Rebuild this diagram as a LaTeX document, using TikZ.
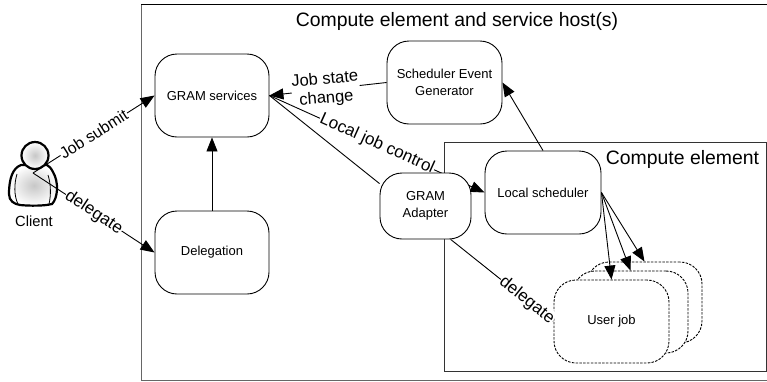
\documentclass[tikz,border=0pt]{standalone}
\usepackage{fontspec}
\setmainfont{Liberation Sans}
\usetikzlibrary{arrows.meta,calc}
\pgfdeclarelayer{front}
\pgfsetlayers{main,front}
\tikzset{
  x=1pt,y=-1pt,
  box/.style={draw=black,fill=white,rounded corners=22pt,line width=0.9pt,inner sep=0pt,font=\fontsize{13}{17}\selectfont,align=center},
  jobbox/.style={box,dash pattern=on 2.5pt off 1.3pt},
  frame/.style={draw=black!60,line width=1.2pt,inner sep=0pt},
  conn/.style={draw=black,line width=0.9pt},
  arr/.style={conn,-{Triangle[length=14pt,width=11pt]}},
  lab/.style={fill=white,inner sep=0.6pt,font=\fontsize{17}{19}\selectfont,align=center},
  title/.style={font=\fontsize{19.4}{22}\selectfont,inner sep=0pt},
  skin/.style={inner color=black!22,outer color=white},
}
\begin{document}
\begin{tikzpicture}
\useasboundingbox (0,0) rectangle (767,381);
\node[frame,minimum width=640pt,minimum height=376pt,anchor=north west] (outer) at (141,4) {};
\draw[black,line width=1pt] (outer.north west) -- (outer.north east);
\node[title] (outertitle) at (457,21.5) {Compute element and service host(s)};
\node[frame,draw=black!80,fill=white,minimum width=322pt,minimum height=229pt,anchor=north west] (inner) at (444,142) {};
\node[title] (innertitle) at (682.5,159.5) {Compute element};
% person
\coordinate (client) at (33,173);
\draw[line width=2.2pt,skin] (21,165) .. controls (13,168) and (9,178) .. (9,194) .. controls (9,201) and (14,204) .. (20,205) .. controls (30,206) and (44,206) .. (52,204) .. controls (58,198) and (59,182) .. (53,172) .. controls (51,168) and (49,166) .. (47,165) -- cycle;
\draw[line width=.8pt] (17,174) .. controls (14,184) and (14,196) .. (18,204);
\draw[line width=.8pt] (48,175) .. controls (51,184) and (51,196) .. (49,204);
\draw[line width=2.2pt,skin] (35,155.5) circle (13.5);
\node[font=\fontsize{14.7}{17}\selectfont,inner sep=0pt] (clientlabel) at (34,221) {Client};
% nodes
\node[box,minimum width=114pt,minimum height=83pt] (gram) at (212,95.5) {GRAM services};
\node[box,minimum width=114pt,minimum height=83pt] (deleg) at (212,252.5) {Delegation};
\node[box,minimum width=115pt,minimum height=83pt] (seg) at (444.5,82.5) {Scheduler Event\\Generator};
\node[box,minimum width=116pt,minimum height=83pt] (sched) at (543,192.5) {Local scheduler};
\node[jobbox,minimum width=115pt,minimum height=81pt] (jobc) at (644.5,302.5) {};
\node[jobbox,minimum width=115pt,minimum height=82pt] (jobb) at (630.5,312) {};
\node[jobbox,minimum width=115pt,minimum height=83pt] (joba) at (611.5,321.5) {User job};
\begin{pgfonlayer}{front}
\node[box,minimum width=91pt,minimum height=66pt] (adapter) at (425.5,206) {GRAM\\Adapter};
\end{pgfonlayer}
% connectors
\draw[arr] (client) -- node[lab,sloped,pos=.5,font=\fontsize{16}{19}\selectfont] {Job submit} (gram.west);
\draw[arr] (client) -- node[lab,sloped,pos=.5] {delegate} (deleg.west);
\draw[arr] (deleg) -- (gram);
\draw[arr] (seg.west) -- node[lab,pos=.52,rotate=5,font=\fontsize{16.5}{19}\selectfont] {Job state\\change} (gram.east);
\draw[arr] (gram.east) -- node[lab,sloped,pos=.5] {Local job control} (sched.west);
\draw[conn] (gram.east) -- (adapter.154);
\draw[arr] (sched.north) -- (seg.east);
\draw[arr] (sched.east) -- (joba.north);
\draw[arr] (sched.east) -- (jobb.north);
\draw[arr] (sched.east) -- (jobc.north);
\draw[arr] (adapter.-53) -- node[lab,sloped,pos=.74] {delegate} (joba.west);
\end{tikzpicture}
\end{document}
